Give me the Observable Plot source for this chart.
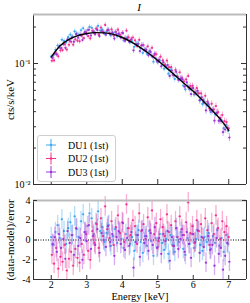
<!DOCTYPE html>
<html><head><meta charset="utf-8">
<script src="https://cdn.jsdelivr.net/npm/d3@7"></script>
<script src="https://cdn.jsdelivr.net/npm/@observablehq/plot@0.6"></script>
<style>
body{margin:0;background:#fff;}
#wrap{position:relative;width:250px;height:303px;font-family:"Liberation Serif",serif;overflow:hidden;}
#top,#bot,#legend,#title{position:absolute;}
#top{left:0;top:0}
#bot{left:0;top:190px}
#title{left:0;width:278px;top:1px;text-align:center;font-style:italic;font-size:11px;}
#legend{left:37px;top:135px;width:77px;height:45px;border:1px solid #cfcfcf;border-radius:3px;background:#fff;}
</style></head>
<body><div id="wrap"><div id="top"></div><div id="bot"></div><div id="title">I</div><div id="legend"></div></div>
<script>
// ---- data ----
const seriesNames = ["DU1 (1st)", "DU2 (1st)", "DU3 (1st)"];
const seriesColors = ["#3ea8f2", "#f5318f", "#9b36dc"];
const energy = [2.00,2.06,2.12,2.18,2.24,2.30,2.36,2.42,2.48,2.54,2.60,2.66,2.72,2.78,2.84,2.90,2.96,3.02,3.08,3.14,3.20,3.26,3.32,3.38,3.44,3.50,3.56,3.62,3.68,3.74,3.80,3.86,3.92,3.98,4.04,4.10,4.16,4.22,4.28,4.34,4.40,4.46,4.52,4.58,4.64,4.70,4.76,4.82,4.88,4.94,5.00,5.06,5.12,5.18,5.24,5.30,5.36,5.42,5.48,5.54,5.60,5.66,5.72,5.78,5.84,5.90,5.96,6.02,6.08,6.14,6.20,6.26,6.32,6.38,6.44,6.50,6.56,6.62,6.68,6.74,6.80,6.86,6.92,6.98];
const resDU1 = [0.3,-0.5,0.8,1.5,0.2,2.1,0.9,-0.4,1.2,1.8,0.5,2.4,1.1,0.3,1.9,2.6,0.8,1.4,2.7,2.2,0.6,1.7,2.9,0.9,1.3,-0.2,0.7,1.5,-0.6,0.4,1.1,-0.3,0.8,0.1,-0.8,0.6,1.2,-0.4,0.3,-1.1,0.5,1.0,-0.2,-1.3,0.4,-0.6,0.9,-0.1,-1.6,0.2,-0.7,0.6,-0.3,-1.0,0.1,-1.4,0.5,-0.5,-1.2,0.3,-0.2,0.8,-0.9,-1.5,0.2,-0.4,0.6,-0.8,0.1,0.9,-0.5,-1.1,0.3,-0.2,0.7,-0.9,0.4,-0.3,1.0,-0.6,0.2,-1.2,0.5,-0.4];
const resDU2 = [-1.5,-2.4,-0.8,-2.9,-1.7,-2.2,-0.5,-3.1,-1.9,-1.2,-2.6,-0.9,-1.8,-2.3,-0.4,-1.5,0.6,-1.1,-2.0,0.9,-0.3,1.6,-0.8,2.2,0.4,3.4,1.1,0.2,1.9,-0.5,1.3,2.5,0.7,1.8,-0.2,3.6,1.2,0.5,2.0,1.4,-0.4,2.7,0.9,1.6,0.1,2.3,1.0,3.0,0.6,1.7,-0.1,2.1,1.3,0.4,2.6,0.8,1.5,-0.6,1.9,0.3,2.4,1.1,0.5,1.8,3.8,0.7,1.4,-0.3,2.0,0.9,1.6,0.2,2.2,1.0,-0.5,1.7,0.6,2.5,1.2,0.1,1.9,0.8,1.4,0.3];
const resDU3 = [-0.4,0.3,-1.2,0.6,-0.8,0.1,-1.9,0.9,-0.3,0.5,-1.5,1.2,-0.6,0.2,-2.0,0.8,-0.1,1.5,-0.9,0.4,-0.5,1.1,-1.3,0.7,0.0,-0.7,1.4,-0.2,0.6,-1.6,0.3,0.9,-0.4,1.7,-1.0,0.2,-0.6,0.8,-2.8,-0.2,0.5,-1.7,1.0,-0.3,0.4,-1.1,0.7,-0.5,1.3,-0.8,0.2,-1.4,0.6,-0.1,0.9,-2.1,0.3,-0.6,1.2,-0.9,0.1,0.5,-1.2,0.8,-0.4,-1.8,0.6,-0.2,1.0,-1.3,0.3,-0.7,-2.3,0.4,-1.0,-0.5,-2.6,0.2,-1.4,-0.8,-3.0,-1.6,-0.3,-2.2];
const modelE = [2.0,2.25,2.5,2.75,3.0,3.25,3.5,3.75,4.0,4.25,4.5,4.75,5.0,5.25,5.5,5.75,6.0,6.25,6.5,6.75,7.0];
const modelFlux = [0.113,0.140,0.158,0.170,0.177,0.180,0.179,0.174,0.164,0.151,0.136,0.121,0.106,0.092,0.079,0.068,0.059,0.050,0.042,0.035,0.028];
const errFracE = [2.0, 4.5, 7.0];
const errFrac = [0.045, 0.05, 0.065];
const topTicksMajor = [0.01, 0.1];
const topTickLabels = ["10⁻²", "10⁻¹"];
const topTicksMinor = [0.02,0.03,0.04,0.05,0.06,0.07,0.08,0.09,0.2];
const xTicks = [2,3,4,5,6,7];
const resTicks = [-4,-2,0,2,4];

// ---- layout ----
const W = 250, xDomain = [1.5, 7.5];
const mL = 33, mR = 4;
const fw = W - mL - mR;
const topH = 190, topMT = 14, topMB = 6, fhTop = topH - topMT - topMB;
const botH = 113, botMT = 10, botMB = 24, fhBot = botH - botMT - botMB;
const yTopDomain = [0.01, 0.254];
const font = "Liberation Serif";

const logModel = d3.scaleLinear().domain(modelE).range(modelFlux.map(Math.log10));
const modelAt = e => Math.pow(10, logModel(e));
const fracAt = d3.scaleLinear().domain(errFracE).range(errFrac);
const residuals = [resDU1, resDU2, resDU3];
const halfBin = 0.03;

const rows = residuals.map((res, k) => energy.map((e, i) => {
  const m = modelAt(e), sig = m * fracAt(e);
  return {e, r: res[i], y: m + res[i] * sig, sig};
}));
const offs = [0, 0.7, 1.4];

// ---- top panel ----
const topMarks = [];
rows.forEach((rs, k) => {
  const c = seriesColors[k];
  topMarks.push(Plot.ruleX(rs, {x: "e", y1: d => d.y - d.sig, y2: d => d.y + d.sig, stroke: c, strokeOpacity: 0.55, strokeWidth: 0.8, dx: offs[k]}));
  topMarks.push(Plot.ruleY(rs, {y: "y", x1: d => d.e - halfBin, x2: d => d.e + halfBin, stroke: c, strokeOpacity: 0.55, strokeWidth: 0.8, dx: offs[k]}));
  topMarks.push(Plot.dot(rs, {x: "e", y: "y", r: 1.1, fill: c, stroke: "none", dx: offs[k]}));
});
const modelRows = modelE.map((e, i) => ({e, f: modelFlux[i]}));
topMarks.push(Plot.line(modelRows, {x: "e", y: "f", curve: "monotone-x", stroke: "#000", strokeWidth: 1.4}));
// frame
topMarks.push(Plot.ruleX([xDomain[0], xDomain[1]], {stroke: "#333", strokeWidth: 1}));
topMarks.push(Plot.ruleY([yTopDomain[0]], {stroke: "#333", strokeWidth: 1}));
topMarks.push(Plot.ruleY([yTopDomain[1]], {stroke: "#bbb", strokeWidth: 2}));
// inner ticks
topMarks.push(Plot.tickY(topTicksMajor, {y: d => d, insetRight: fw - 5, stroke: "#333"}));
topMarks.push(Plot.tickY(topTicksMajor, {y: d => d, insetLeft: fw - 5, stroke: "#333"}));
topMarks.push(Plot.tickY(topTicksMinor, {y: d => d, insetRight: fw - 3, stroke: "#333"}));
topMarks.push(Plot.tickY(topTicksMinor, {y: d => d, insetLeft: fw - 3, stroke: "#333"}));
topMarks.push(Plot.tickX(xTicks, {x: d => d, insetTop: fhTop - 5, stroke: "#333"}));
topMarks.push(Plot.axisY(topTicksMajor, {tickSize: 0, tickPadding: 3, tickFormat: d => topTickLabels[topTicksMajor.indexOf(d)], fontSize: 10, label: null}));
topMarks.push(Plot.text(["cts/s/keV"], {frameAnchor: "left", textAnchor: "middle", lineAnchor: "middle", rotate: -90, dx: -23, fontSize: 11, text: d => d}));

const topPlot = Plot.plot({
  width: W, height: topH, marginTop: topMT, marginBottom: topMB, marginLeft: mL, marginRight: mR,
  x: {domain: xDomain, axis: null},
  y: {type: "log", domain: yTopDomain, axis: null},
  style: {fontFamily: font, fontSize: "10px", background: "transparent", color: "#000"},
  marks: topMarks
});
document.getElementById("top").appendChild(topPlot);

// ---- bottom panel ----
const botMarks = [];
botMarks.push(Plot.ruleY([0], {stroke: "#000", strokeWidth: 1, strokeDasharray: "1,1.5"}));
rows.forEach((rs, k) => {
  const c = seriesColors[k];
  botMarks.push(Plot.ruleX(rs, {x: "e", y1: d => d.r - 1, y2: d => d.r + 1, stroke: c, strokeOpacity: 0.4, strokeWidth: 1.3, dx: offs[k]}));
  botMarks.push(Plot.ruleY(rs, {y: "r", x1: d => d.e - halfBin, x2: d => d.e + halfBin, stroke: c, strokeOpacity: 0.4, strokeWidth: 1, dx: offs[k]}));
  botMarks.push(Plot.dot(rs, {x: "e", y: "r", r: 1.1, fill: c, stroke: "none", dx: offs[k]}));
});
botMarks.push(Plot.ruleX([xDomain[0], xDomain[1]], {stroke: "#333", strokeWidth: 1}));
botMarks.push(Plot.ruleY([-4], {stroke: "#333", strokeWidth: 1}));
botMarks.push(Plot.ruleY([4], {stroke: "#bbb", strokeWidth: 2}));
botMarks.push(Plot.tickY(resTicks, {y: d => d, insetRight: fw - 4, stroke: "#333"}));
botMarks.push(Plot.tickY(resTicks, {y: d => d, insetLeft: fw - 4, stroke: "#333"}));
botMarks.push(Plot.tickX(xTicks, {x: d => d, insetTop: fhBot - 4, stroke: "#333"}));
botMarks.push(Plot.axisY(resTicks, {tickSize: 0, tickPadding: 3, tickFormat: d => String(d), fontSize: 10, label: null}));
botMarks.push(Plot.axisX(xTicks, {tickSize: 0, tickPadding: 1, tickFormat: d => String(d), fontSize: 10, label: null}));
botMarks.push(Plot.text(["(data-model)/error"], {frameAnchor: "left", textAnchor: "middle", lineAnchor: "middle", rotate: -90, dx: -23, fontSize: 11, text: d => d}));
botMarks.push(Plot.text(["Energy [keV]"], {frameAnchor: "bottom", textAnchor: "middle", lineAnchor: "middle", dy: 17, fontSize: 10.5, text: d => d}));

const botPlot = Plot.plot({
  width: W, height: botH, marginTop: botMT, marginBottom: botMB, marginLeft: mL, marginRight: mR,
  x: {domain: xDomain, axis: null},
  y: {domain: [-4, 4], axis: null},
  style: {fontFamily: font, fontSize: "10px", background: "transparent", color: "#000"},
  marks: botMarks
});
document.getElementById("bot").appendChild(botPlot);

// ---- legend ----
const lg = d3.select("#legend").append("svg").attr("width", 77).attr("height", 45);
seriesNames.forEach((n, k) => {
  const cy = 9 + k * 13.5, cx = 13;
  lg.append("line").attr("x1", cx - 5).attr("x2", cx + 5).attr("y1", cy).attr("y2", cy).attr("stroke", seriesColors[k]).attr("stroke-width", 1);
  lg.append("line").attr("x1", cx).attr("x2", cx).attr("y1", cy - 6).attr("y2", cy + 6).attr("stroke", seriesColors[k]).attr("stroke-width", 1);
  lg.append("circle").attr("cx", cx).attr("cy", cy).attr("r", 1.2).attr("fill", seriesColors[k]);
  lg.append("text").attr("x", 30).attr("y", cy).attr("dy", "0.35em").attr("font-family", font).attr("font-size", 10).text(n);
});
</script>
</body></html>
